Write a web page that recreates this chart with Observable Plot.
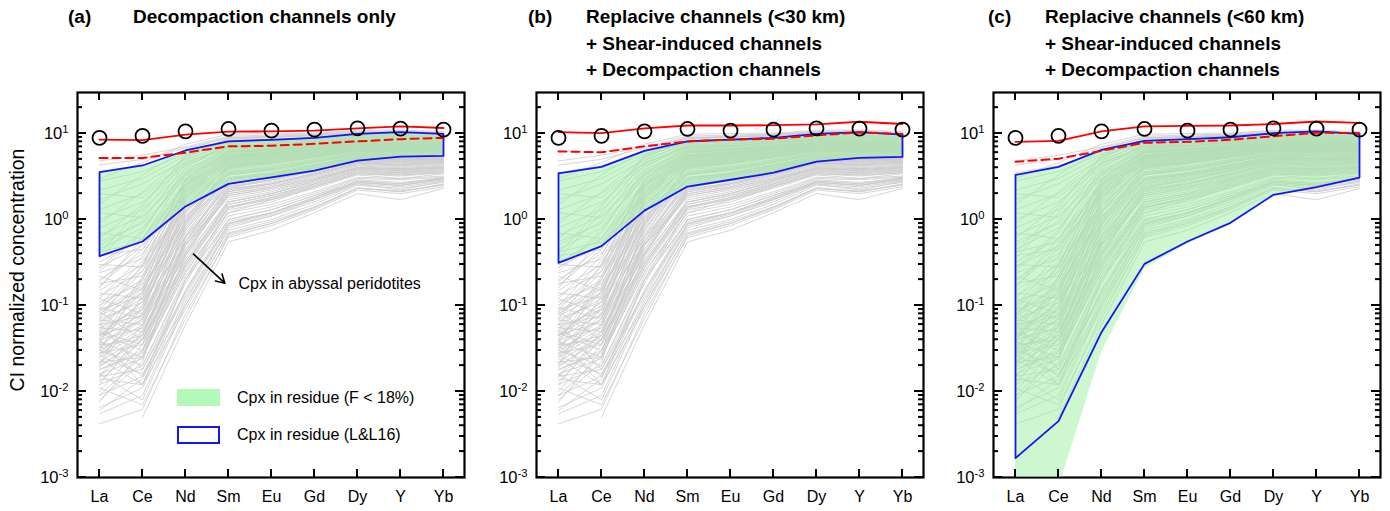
<!DOCTYPE html>
<html>
<head>
<meta charset="utf-8">
<script src="https://cdn.jsdelivr.net/npm/d3@7"></script>
<script src="https://cdn.jsdelivr.net/npm/@observablehq/plot@0.6"></script>
<style>
  html, body { margin: 0; padding: 0; background: #fff; }
  body { font-family: "Liberation Sans", Arial, sans-serif; color: #000; }
  #wrap { position: relative; width: 1390px; height: 511px; overflow: hidden; }
  .panel { position: absolute; top: 80px; }
  .tag, .title { position: absolute; top: 4px; font-weight: bold; font-size: 19px; line-height: 26.5px; white-space: nowrap; }
  .legend-sw { position: absolute; box-sizing: border-box; }
  .legend-tx { position: absolute; font-size: 16px; line-height: 20px; white-space: nowrap; }
</style>
</head>
<body>
<div id="wrap"></div>
<script>
// ---------- data ----------
const elements = ["La", "Ce", "Nd", "Sm", "Eu", "Gd", "Dy", "Y", "Yb"];

// open circles (same in every panel)
const circleValues = [8.9, 9.4, 10.6, 11.3, 10.8, 11.1, 11.5, 11.4, 11.1];

// panel (a)
const redA     = [8.5, 8.4, 9.7, 10.5, 10.6, 10.8, 11.5, 12.1, 11.6];
const dashA    = [5.2, 5.2, 6.0, 7.1, 7.2, 7.6, 8.1, 8.6, 8.9];
const blueUpA  = [3.55, 4.25, 6.35, 8.1, 8.45, 8.9, 9.9, 10.4, 9.9];
const blueLoA  = [0.375, 0.555, 1.42, 2.6, 3.1, 3.7, 4.85, 5.4, 5.5];
const greenLoA = [0.375, 0.555, 1.42, 2.6, 3.1, 3.7, 4.85, 5.4, 5.5];

// panel (b)
const redB     = [10.4, 10.1, 11.5, 12.4, 12.4, 12.5, 12.8, 13.7, 12.9];
const dashB    = [6.2, 6.05, 7.1, 8.1, 8.5, 8.7, 9.5, 10.3, 9.9];
const blueUpB  = [3.45, 4.1, 6.3, 8.1, 8.5, 8.9, 9.9, 10.4, 9.7];
const blueLoB  = [0.313, 0.49, 1.27, 2.42, 2.9, 3.5, 4.7, 5.2, 5.35];
const greenLoB = [0.313, 0.49, 1.27, 2.42, 2.9, 3.5, 4.7, 5.2, 5.35];

// panel (c)
const redC     = [8.0, 8.2, 10.6, 12.1, 12.3, 12.4, 12.9, 13.8, 13.3];
const dashC    = [4.7, 5.1, 6.3, 7.8, 8.0, 8.45, 9.3, 10.2, 10.1];
const blueUpC  = [3.3, 4.1, 6.45, 8.2, 8.6, 9.05, 10.1, 10.6, 9.9];
const blueLoC  = [0.00168, 0.00452, 0.049, 0.305, 0.555, 0.915, 1.94, 2.38, 3.08];
const greenLoC = [0.0003, 0.00075, 0.0286, 0.267, 0.52, 0.915, 1.94, 2.38, 3.08];

// Cpx in abyssal peridotites (grey patterns; La, Ce, Nd, Sm, Eu, Gd, Dy, Y, Yb)
const abyssal = [
  [0.0042, 0.0062, 0.08, 0.62, 0.85, 1.3, 2.2, 2.0, 2.4],
  [null, 0.005, 0.06, 0.55, 0.75, 1.2, 2.0, 1.7, 2.3],
  [0.0065, 0.011, 0.12, 0.75, 1.0, 1.5, 2.5, 2.3, 2.7],
  [0.009, 0.015, 0.15, 0.9, 1.2, 1.8, 2.8, 2.6, 3.0],
  [0.012, 0.02, 0.22, 1.1, 1.4, 2.0, 3.0, 2.9, 3.1],
  [0.015, 0.018, 0.18, 1.3, 1.6, 2.4, 3.4, 3.3, 3.5],
  [0.018, 0.03, 0.3, 1.5, 1.9, 2.6, 3.6, 3.5, 3.7],
  [0.02, 0.04, 0.35, 1.7, 2.1, 2.9, 3.9, 3.8, 4.0],
  [0.022, 0.025, 0.25, 1.2, 1.5, 2.1, 3.1, 3.0, 3.2],
  [0.025, 0.05, 0.4, 2.0, 2.4, 3.2, 4.3, 4.1, 4.4],
  [0.028, 0.035, 0.45, 2.2, 2.7, 3.4, 4.5, 4.4, 4.6],
  [0.03, 0.06, 0.5, 1.8, 2.2, 2.9, 4.0, 3.9, 4.1],
  [0.033, 0.045, 0.6, 2.5, 2.9, 3.7, 4.8, 4.7, 4.9],
  [0.035, 0.07, 0.7, 2.6, 3.1, 3.9, 5.0, 4.9, 5.1],
  [0.04, 0.055, 0.38, 1.6, 2.0, 2.7, 3.8, 3.6, 3.9],
  [0.042, 0.08, 0.8, 2.9, 3.3, 4.1, 5.2, 5.1, 5.2],
  [0.045, 0.065, 0.55, 2.3, 2.6, 3.3, 4.4, 4.2, 4.5],
  [0.05, 0.1, 0.9, 3.1, 3.5, 4.3, 5.4, 5.3, 5.4],
  [0.055, 0.09, 1.0, 3.3, 3.8, 4.6, 5.7, 5.5, 5.6],
  [0.06, 0.075, 0.65, 2.4, 2.8, 3.6, 4.7, 4.5, 4.8],
  [0.065, 0.12, 1.1, 3.6, 4.0, 4.8, 5.9, 5.8, 5.9],
  [0.07, 0.11, 0.75, 2.8, 3.2, 4.0, 5.1, 5.0, 5.0],
  [0.075, 0.14, 1.3, 3.8, 4.2, 5.0, 6.1, 6.0, 6.0],
  [0.08, 0.16, 1.2, 3.5, 3.9, 4.7, 5.8, 5.6, 5.7],
  [0.09, 0.13, 0.95, 3.0, 3.4, 4.2, 5.3, 5.2, 5.3],
  [0.1, 0.2, 1.5, 4.0, 4.5, 5.3, 6.3, 6.2, 6.2],
  [0.11, 0.18, 1.4, 4.2, 4.7, 5.5, 6.5, 6.3, 6.3],
  [0.012, 0.05, 0.5, 2.1, 2.5, 3.3, 4.6, 4.3, 4.7],
  [0.016, 0.008, 0.1, 0.8, 1.1, 1.6, 2.6, 2.4, 2.8],
  [0.024, 0.012, 0.2, 1.0, 1.3, 1.9, 2.9, 2.7, 3.0],
  [0.038, 0.025, 0.28, 1.4, 1.8, 2.5, 3.5, 3.4, 3.6],
  [0.13, 0.25, 1.8, 4.5, 5.0, 5.8, 6.8, 6.6, 6.5],
  [0.15, 0.3, 2.0, 4.8, 5.3, 6.0, 7.0, 6.9, 6.8],
  [0.18, 0.22, 1.6, 4.3, 4.6, 5.4, 6.4, 6.2, 6.4],
  [0.2, 0.4, 2.3, 5.0, 5.5, 6.2, 7.2, 7.0, 7.0],
  [0.24, 0.35, 2.1, 4.6, 5.1, 5.9, 6.9, 6.7, 6.6],
  [0.28, 0.5, 2.6, 5.3, 5.8, 6.5, 7.4, 7.3, 7.2],
  [0.32, 0.6, 2.8, 5.5, 6.0, 6.7, 7.6, 7.5, 7.4],
  [0.38, 0.45, 2.2, 4.9, 5.2, 6.0, 7.0, 6.8, 6.9],
  [0.45, 0.8, 3.2, 6.0, 6.4, 7.0, 7.9, 7.7, 7.6],
  [0.55, 0.9, 3.0, 5.7, 6.2, 6.9, 7.8, 7.6, 7.5],
  [0.65, 1.1, 3.5, 6.3, 6.7, 7.3, 8.2, 8.0, 7.8],
  [0.8, 1.3, 3.8, 6.5, 7.0, 7.5, 8.4, 8.3, 8.0],
  [1.0, 1.6, 4.2, 6.8, 7.2, 7.8, 8.6, 8.5, 8.2],
  [1.3, 2.0, 4.6, 7.1, 7.5, 8.0, 8.8, 8.7, 8.4],
  [1.7, 2.6, 5.0, 7.4, 7.7, 8.2, 9.0, 8.9, 8.6],
  [2.2, 3.0, 5.5, 7.8, 8.0, 8.5, 9.3, 9.2, 8.8],
  [2.8, 3.6, 5.8, 8.0, 8.3, 8.7, 9.5, 9.5, 9.0],
  [3.5, 4.2, 6.2, 8.4, 8.6, 9.0, 9.8, 9.8, 9.3],
  [4.3, 5.0, 6.8, 8.9, 9.1, 9.4, 10.2, 10.3, 9.7],
  [4.8, 5.6, 7.0, 9.3, 9.6, 9.9, 10.6, 10.8, 10.2],
  [3.0, 4.6, 7.5, 9.8, 10.0, 10.1, 10.9, 11.0, 10.5],
  [0.6, 1.5, 5.2, 8.6, 9.0, 9.4, 10.0, 10.1, 9.6],
  [0.25, 0.7, 4.0, 7.6, 8.0, 8.4, 9.1, 9.0, 8.7],
  [0.5, 0.95, 4.4, 7.0, 7.3, 7.8, 8.5, 8.3, 8.1],
  [0.09, 0.28, 3.0, 6.2, 6.6, 7.2, 8.0, 7.9, 7.6],
  [0.04, 0.15, 2.5, 5.6, 6.0, 6.6, 7.5, 7.4, 7.3],
  [0.025, 0.08, 1.6, 4.8, 5.4, 6.1, 7.1, 7.0, 6.9],
  [0.015, 0.06, 1.2, 4.4, 4.9, 5.7, 6.7, 6.5, 6.5],
  [0.01, 0.035, 0.9, 3.9, 4.4, 5.2, 6.2, 6.0, 6.1],
  [0.008, 0.022, 0.65, 3.4, 3.9, 4.7, 5.8, 5.7, 5.8],
  [0.02, 0.1, 1.8, 5.2, 5.7, 6.4, 7.3, 7.1, 7.1],
  [0.06, 0.2, 2.2, 5.4, 5.9, 6.4, 7.4, 7.2, 7.0],
  [0.12, 0.38, 2.7, 5.9, 6.3, 6.9, 7.7, 7.6, 7.4],
  [0.035, 0.04, 0.42, 1.9, 2.3, 3.0, 4.1, 3.9, 4.2],
  [0.05, 0.035, 0.3, 1.4, 1.7, 2.3, 3.3, 3.0, 3.4],
  [0.03, 0.02, 0.2, 0.95, 1.2, 1.7, 2.6, 2.2, 2.8],
  [0.055, 0.05, 0.33, 1.5, 1.9, 2.6, 3.7, 3.5, 3.8],
  [0.018, 0.028, 0.24, 1.2, 1.7, 2.4, 3.4, 3.2, 3.5],
  [0.014, 0.012, 0.09, 0.7, 0.95, 1.4, 2.3, 2.1, 2.6],
  [0.07, 0.3, 2.9, 6.4, 6.8, 7.4, 8.1, 8.0, 7.7],
  [0.16, 0.6, 3.4, 6.7, 7.1, 7.7, 8.4, 8.2, 8.0],
  [0.35, 1.2, 4.8, 7.9, 8.3, 8.8, 9.4, 9.3, 9.0],
  [1.5, 3.3, 6.5, 9.0, 9.3, 9.7, 10.4, 10.5, 10.0],
  [0.022, 0.045, 0.75, 3.6, 4.1, 4.9, 6.0, 5.9, 6.0],
  [0.045, 0.09, 1.4, 4.6, 5.1, 5.9, 6.9, 6.8, 6.7],
  [0.085, 0.17, 2.0, 5.1, 5.6, 6.3, 7.3, 7.2, 7.1],
  [0.028, 0.07, 1.0, 4.1, 4.6, 5.4, 6.5, 6.4, 6.3],
  [0.04, 0.012, 0.15, 1.0, 1.3, 1.9, 2.7, 2.5, 2.9],
  [0.03, 0.2, 1.9, 5.0, 5.4, 6.0, 7.0, 6.9, 6.8],
  [0.0055, 0.009, 0.11, 0.85, 1.1, 1.7, 2.7, 2.5, 2.9],
  [0.011, 0.007, 0.07, 0.65, 0.9, 1.35, 2.3, 2.15, 2.5],
  [0.019, 0.045, 0.55, 2.7, 3.2, 4.0, 5.1, 5.0, 5.1],
  [0.026, 0.016, 0.13, 0.88, 1.15, 1.75, 2.8, 2.6, 3.1],
  [0.032, 0.09, 1.3, 4.3, 4.8, 5.6, 6.6, 6.4, 6.4],
  [0.048, 0.03, 0.27, 1.35, 1.75, 2.45, 3.5, 3.3, 3.6],
  [0.058, 0.14, 1.7, 4.7, 5.2, 6.0, 7.0, 6.8, 6.8],
  [0.068, 0.06, 0.45, 2.0, 2.4, 3.1, 4.2, 4.0, 4.3],
  [0.078, 0.25, 2.4, 5.7, 6.1, 6.8, 7.6, 7.5, 7.3],
  [0.095, 0.07, 0.55, 2.2, 2.6, 3.4, 4.5, 4.3, 4.6],
  [0.14, 0.12, 0.85, 3.0, 3.4, 4.2, 5.3, 5.1, 5.2],
  [0.17, 0.45, 2.9, 6.1, 6.5, 7.1, 7.9, 7.8, 7.5],
  [0.22, 0.15, 1.05, 3.4, 3.8, 4.6, 5.6, 5.5, 5.5],
  [0.27, 0.75, 3.6, 6.9, 7.2, 7.8, 8.6, 8.4, 8.1],
  [0.3, 0.28, 1.5, 4.1, 4.5, 5.3, 6.3, 6.1, 6.2],
  [0.42, 0.55, 2.5, 5.4, 5.9, 6.6, 7.5, 7.3, 7.2],
  [0.7, 0.6, 2.4, 5.2, 5.6, 6.3, 7.3, 7.1, 7.0],
  [0.9, 2.1, 5.3, 8.2, 8.6, 9.0, 9.7, 9.6, 9.2],
  [1.2, 1.05, 3.3, 6.1, 6.5, 7.1, 8.0, 7.8, 7.6],
  [2.0, 1.8, 4.5, 7.2, 7.6, 8.1, 8.9, 8.8, 8.5],
  [0.0075, 0.03, 0.55, 3.0, 3.5, 4.3, 5.5, 5.3, 5.5],
  [0.013, 0.04, 0.85, 4.0, 4.6, 5.5, 6.6, 6.5, 6.4],
  [0.021, 0.13, 2.1, 5.5, 6.0, 6.7, 7.6, 7.4, 7.3],
  [0.036, 0.22, 2.6, 6.0, 6.5, 7.1, 7.9, 7.8, 7.6],
  [0.062, 0.018, 0.14, 0.9, 1.2, 1.8, 2.7, 2.5, 3.0],
  [0.085, 0.04, 0.32, 1.6, 2.0, 2.8, 3.9, 3.7, 4.0],
  [0.12, 0.08, 0.62, 2.6, 3.0, 3.8, 4.9, 4.7, 4.9],
  [0.016, 0.024, 0.4, 2.3, 2.9, 3.8, 5.0, 4.8, 5.0],
  [0.027, 0.055, 0.95, 4.2, 4.8, 5.7, 6.8, 6.6, 6.6],
  [0.044, 0.11, 1.75, 5.3, 5.8, 6.6, 7.5, 7.4, 7.2],
  [0.006, 0.014, 0.2, 1.4, 1.8, 2.6, 3.7, 3.5, 3.8],
  [0.009, 0.026, 0.38, 2.1, 2.6, 3.5, 4.6, 4.4, 4.6],
  [0.052, 0.16, 1.1, 2.9, 3.3, 4.0, 5.0, 4.9, 5.0],
  [0.1, 0.33, 1.25, 3.3, 3.7, 4.4, 5.4, 5.3, 5.3],
  [0.19, 0.5, 1.9, 4.4, 4.8, 5.6, 6.5, 6.4, 6.3],
  [null, 0.03, 0.5, 2.4, 2.9, 3.7, 4.8, 4.6, 4.8],
  [0.034, 0.015, 0.1, 0.68, 0.9, 1.4, 2.35, 2.1, 2.55],
  [0.046, 0.11, 0.52, 1.9, 2.3, 3.0, 4.0, 3.8, 4.1],
  [0.015, 0.04, 0.3, 1.6, 2.0, 2.8, 3.9, 3.7, 4.0],
  [0.4, 1.4, 5.6, 8.8, 9.2, 9.6, 10.3, 10.4, 9.9]
];

// axis ticks and labels
const yMajorTicks = [1e-3, 1e-2, 1e-1, 1, 10];
const yTickLabels = ["10^-3", "10^-2", "10^-1", "10^0", "10^1"];
const yMinorTicks = [2e-3,3e-3,4e-3,5e-3,6e-3,7e-3,8e-3,9e-3,
                     2e-2,3e-2,4e-2,5e-2,6e-2,7e-2,8e-2,9e-2,
                     0.2,0.3,0.4,0.5,0.6,0.7,0.8,0.9,
                     2,3,4,5,6,7,8,9,20];
const yDomain = [1e-3, 30];

const yAxisLabel = "CI normalized concentration";
const annotationText = "Cpx in abyssal peridotites";
// annotation arrow anchors (data space)
const arrowFrom = {x: "Nd", y: 0.485};
const arrowTo   = {x: "Sm", y: 0.166};
const annotationAt = {x: "Sm", y: 0.18};

const legendLabels = ["Cpx in residue (F < 18%)", "Cpx in residue (L&L16)"];

const titles = [
  {tag: "(a)", lines: ["Decompaction channels only"]},
  {tag: "(b)", lines: ["Replacive channels (<30 km)", "+ Shear-induced channels", "+ Decompaction channels"]},
  {tag: "(c)", lines: ["Replacive channels (<60 km)", "+ Shear-induced channels", "+ Decompaction channels"]}
];

// ---------- drawing ----------
const W = 470, H = 431, ML = 77, MR = 6, MT = 12, MB = 34;
const FONT = "'Liberation Sans', Arial, Helvetica, sans-serif";
const RED = "#ff0000", BLUE = "#1414f5";

const greyRows = abyssal.flatMap((vals, k) => vals.map((v, i) => ({id: k, x: elements[i], y: v})));
const rowsOf = arr => elements.map((e, i) => ({x: e, y: arr[i]}));

function makePanel({red, dash, up, lo, greenLo, first}) {
  const areaRows = elements.map((e, i) => ({x: e, lo: greenLo[i], hi: up[i]}));
  const poly = [
    ...elements.map((e, i) => ({x: e, y: up[i]})),
    ...elements.map((e, i) => ({x: e, y: lo[i]})).reverse(),
    {x: elements[0], y: up[0]}
  ];
  const marks = [
    Plot.line(greyRows, {x: "x", y: "y", z: "id", stroke: "#cbcbcb", strokeWidth: 0.8}),
    Plot.frame({stroke: "black", strokeWidth: 2.2}),
    Plot.areaY(areaRows, {x: "x", y1: "lo", y2: "hi", fill: "#9cef9f", fillOpacity: 0.5, clip: true}),
    Plot.line(poly, {x: "x", y: "y", stroke: BLUE, strokeWidth: 1.8}),
    Plot.line(rowsOf(dash), {x: "x", y: "y", stroke: RED, strokeWidth: 2, strokeDasharray: "8,5"}),
    Plot.line(rowsOf(red), {x: "x", y: "y", stroke: RED, strokeWidth: 1.8}),
    Plot.dot(rowsOf(circleValues), {x: "x", y: "y", r: 7, stroke: "black", strokeWidth: 1.8, fill: "none"}),
    Plot.axisX({tickSize: 0, tickPadding: 13, label: null, fontSize: 16}),
    Plot.axisY({ticks: yMajorTicks, tickSize: 0, tickPadding: 9, label: null, fontSize: 16.5,
                tickFormat: d => yTickLabels[yMajorTicks.indexOf(d)]})
  ];
  if (first) {
    marks.push(
      Plot.text([yAxisLabel], {text: d => d, frameAnchor: "left", textAnchor: "middle", dx: -60, dy: -15,
                               rotate: -90, fontSize: 19.5, fill: "black"}),
      Plot.arrow([0], {x1: () => arrowFrom.x, y1: () => arrowFrom.y, x2: () => arrowTo.x, y2: () => arrowTo.y,
                       insetStart: 11, insetEnd: 5, stroke: "black", strokeWidth: 1.6, headLength: 9}),
      Plot.text([annotationText], {x: () => annotationAt.x, y: () => annotationAt.y, text: d => d,
                                   dx: 10, textAnchor: "start", fontSize: 16, fill: "black"})
    );
  }
  const svg = Plot.plot({
    width: W, height: H, marginLeft: ML, marginRight: MR, marginTop: MT, marginBottom: MB,
    style: {fontFamily: FONT, fontSize: "16px", color: "black", background: "transparent", overflow: "visible"},
    x: {type: "point", domain: elements, padding: 0.5},
    y: {type: "log", domain: yDomain},
    marks
  });

  // inward tick marks on all four sides, positioned through Plot's own scales
  const xs = svg.scale("x"), ys = svg.scale("y");
  const top = MT, bot = H - MB, left = ML, right = W - MR;
  const g = d3.select(svg).append("g").attr("stroke", "black").attr("stroke-width", 2);
  elements.forEach(e => {
    const x = xs.apply(e);
    g.append("line").attr("x1", x).attr("x2", x).attr("y1", bot).attr("y2", bot - 8);
    g.append("line").attr("x1", x).attr("x2", x).attr("y1", top).attr("y2", top + 8);
  });
  const yTick = (v, len) => {
    const y = ys.apply(v);
    g.append("line").attr("x1", left).attr("x2", left + len).attr("y1", y).attr("y2", y);
    g.append("line").attr("x1", right).attr("x2", right - len).attr("y1", y).attr("y2", y);
  };
  yMajorTicks.forEach(v => yTick(v, 9));
  yMinorTicks.forEach(v => yTick(v, 5));

  // superscript exponents on y tick labels
  const NS = "http://www.w3.org/2000/svg";
  svg.querySelectorAll('g[aria-label="y-axis tick label"] text').forEach(t => {
    const s = t.textContent;
    if (!s.includes("^")) return;
    const [base, exp] = s.split("^");
    t.textContent = "";
    const a = document.createElementNS(NS, "tspan"); a.textContent = base; t.appendChild(a);
    const b = document.createElementNS(NS, "tspan");
    b.setAttribute("dy", "-0.5em"); b.setAttribute("font-size", "0.68em"); b.textContent = exp;
    t.appendChild(b);
  });
  return svg;
}

const wrap = document.getElementById("wrap");
const panelLefts = [0, 459, 916];
const tagLefts = [68, 528, 988];
const titleLefts = [133, 586, 1045];
const configs = [
  {red: redA, dash: dashA, up: blueUpA, lo: blueLoA, greenLo: greenLoA, first: true},
  {red: redB, dash: dashB, up: blueUpB, lo: blueLoB, greenLo: greenLoB, first: false},
  {red: redC, dash: dashC, up: blueUpC, lo: blueLoC, greenLo: greenLoC, first: false}
];
configs.forEach((cfg, i) => {
  const div = document.createElement("div");
  div.className = "panel";
  div.style.left = panelLefts[i] + "px";
  div.appendChild(makePanel(cfg));
  wrap.appendChild(div);
  const tag = document.createElement("div");
  tag.className = "tag"; tag.style.left = tagLefts[i] + "px"; tag.textContent = titles[i].tag;
  wrap.appendChild(tag);
  const tt = document.createElement("div");
  tt.className = "title"; tt.style.left = titleLefts[i] + "px";
  titles[i].lines.forEach(l => { const d = document.createElement("div"); d.textContent = l; tt.appendChild(d); });
  wrap.appendChild(tt);
});

// legend inside panel (a)
const sw1 = document.createElement("div");
sw1.className = "legend-sw";
Object.assign(sw1.style, {left: "177px", top: "389px", width: "43px", height: "17px", background: "#b3f9b8"});
const sw2 = document.createElement("div");
sw2.className = "legend-sw";
Object.assign(sw2.style, {left: "177px", top: "426px", width: "43px", height: "18px", border: "2px solid " + BLUE, background: "#fff"});
const tx1 = document.createElement("div");
tx1.className = "legend-tx"; tx1.textContent = legendLabels[0];
Object.assign(tx1.style, {left: "237px", top: "388px"});
const tx2 = document.createElement("div");
tx2.className = "legend-tx"; tx2.textContent = legendLabels[1];
Object.assign(tx2.style, {left: "237px", top: "425px"});
[sw1, sw2, tx1, tx2].forEach(e => wrap.appendChild(e));
</script>
</body>
</html>
